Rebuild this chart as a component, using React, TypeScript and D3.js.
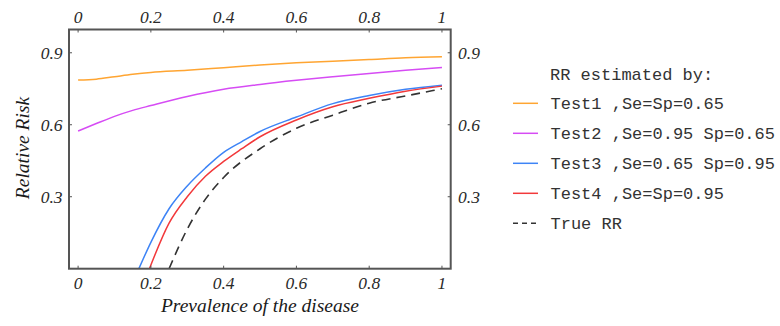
import React from "react";
import * as d3 from "d3";

const W = 780;
const H = 326;

const xTicks = [0, 0.2, 0.4, 0.6, 0.8, 1];
const yTicks = [0.3, 0.6, 0.9];

const pOrange = [0, 0.05, 0.1, 0.15, 0.2, 0.3, 0.4, 0.5, 0.6, 0.7, 0.8, 0.9, 1.0];
const test1 = [0.786, 0.79, 0.8, 0.81, 0.818, 0.827, 0.838, 0.849, 0.858, 0.865, 0.872, 0.879, 0.883];

const pPurple = [0, 0.05, 0.1, 0.15, 0.2, 0.3, 0.4, 0.5, 0.6, 0.7, 0.8, 0.9, 1.0];
const test2 = [0.574, 0.605, 0.635, 0.66, 0.68, 0.718, 0.748, 0.768, 0.785, 0.8, 0.814, 0.827, 0.839];

const pBlue = [0.167, 0.2, 0.25, 0.3, 0.35, 0.4, 0.45, 0.5, 0.6, 0.7, 0.8, 0.9, 1.0];
const test3 = [0, 0.11, 0.25, 0.345, 0.42, 0.485, 0.53, 0.572, 0.632, 0.688, 0.722, 0.748, 0.765];

const pRed = [0.196, 0.25, 0.3, 0.35, 0.4, 0.45, 0.5, 0.6, 0.7, 0.8, 0.9, 1.0];
const test4 = [0, 0.19, 0.3, 0.385, 0.447, 0.5, 0.55, 0.62, 0.675, 0.71, 0.74, 0.761];

const pTrue = [0.25, 0.3, 0.35, 0.4, 0.5, 0.6, 0.7, 0.8, 0.9, 1.0];
const trueRR = [0, 0.165, 0.29, 0.38, 0.5, 0.585, 0.64, 0.69, 0.72, 0.75];

const legendTitle = "RR estimated by:";
const legendLabels = [
  "Test1 ,Se=Sp=0.65",
  "Test2 ,Se=0.95 Sp=0.65",
  "Test3 ,Se=0.65 Sp=0.95",
  "Test4 ,Se=Sp=0.95",
  "True RR",
];
const colors = ["#FFA532", "#D64CF4", "#3E84F6", "#F2393B", "#333333"];

export default function App() {
  const left = 69, right = 450.7, top = 29.5, bottom = 268.7;
  const x = d3.scaleLinear().domain([-0.025, 1.024]).range([left, right]);
  const y = d3.scaleLinear().domain([0, 0.997]).range([bottom, top]);

  const series = [
    { p: pOrange, v: test1 },
    { p: pPurple, v: test2 },
    { p: pBlue, v: test3 },
    { p: pRed, v: test4 },
    { p: pTrue, v: trueRR },
  ];
  const line = d3
    .line<[number, number]>()
    .x((d) => x(d[0]))
    .y((d) => y(d[1]))
    .curve(d3.curveMonotoneX);

  const serifStyle: React.CSSProperties = {
    fontFamily: '"Liberation Serif", "Times New Roman", serif',
    fontStyle: "italic",
  };
  const monoStyle: React.CSSProperties = {
    fontFamily: '"Liberation Mono", "Courier New", monospace',
  };
  const axisColor = "#555555";
  const tickLen = 3;

  return (
    <svg width={W} height={H} style={{ position: "absolute", left: 0, top: 0, background: "#fff" }}>
      <defs>
        <clipPath id="plotclip">
          <rect x={left} y={top} width={right - left} height={bottom - top} />
        </clipPath>
      </defs>
      <g clipPath="url(#plotclip)">
        {series.map((s, i) => (
          <path
            key={i}
            d={line(s.p.map((p, j) => [p, s.v[j]] as [number, number])) || ""}
            fill="none"
            stroke={colors[i]}
            strokeWidth={i === 4 ? 1.6 : 1.5}
            strokeDasharray={i === 4 ? "9,6" : undefined}
          />
        ))}
      </g>
      <rect x={left} y={top} width={right - left} height={bottom - top} fill="none" stroke={axisColor} strokeWidth={2} />
      {xTicks.map((t) => (
        <g key={"x" + t}>
          <line x1={x(t)} x2={x(t)} y1={bottom} y2={bottom - tickLen} stroke={axisColor} strokeWidth={1} />
          <line x1={x(t)} x2={x(t)} y1={top} y2={top + tickLen} stroke={axisColor} strokeWidth={1} />
          <text x={x(t)} y={289} textAnchor="middle" style={{ ...serifStyle, fontSize: 17.5 }} fill="#2a2a2a">
            {String(t)}
          </text>
          <text x={x(t)} y={23} textAnchor="middle" style={{ ...serifStyle, fontSize: 17.5 }} fill="#2a2a2a">
            {String(t)}
          </text>
        </g>
      ))}
      {yTicks.map((t) => (
        <g key={"y" + t}>
          <line x1={left} x2={left + tickLen} y1={y(t)} y2={y(t)} stroke={axisColor} strokeWidth={1} />
          <line x1={right} x2={right - tickLen} y1={y(t)} y2={y(t)} stroke={axisColor} strokeWidth={1} />
          <text x={62.5} y={y(t) + 6} textAnchor="end" style={{ ...serifStyle, fontSize: 17.5 }} fill="#2a2a2a">
            {t.toFixed(1)}
          </text>
          <text x={458} y={y(t) + 6} textAnchor="start" style={{ ...serifStyle, fontSize: 17.5 }} fill="#2a2a2a">
            {t.toFixed(1)}
          </text>
        </g>
      ))}
      <text x={259.9} y={312} textAnchor="middle" style={{ ...serifStyle, fontSize: 19.5 }} fill="#1a1a1a">
        Prevalence of the disease
      </text>
      <text
        transform={`translate(29,148) rotate(-90)`}
        textAnchor="middle"
        style={{ ...serifStyle, fontSize: 19.5 }}
        fill="#1a1a1a"
      >
        Relative Risk
      </text>
      <text x={550} y={79.5} style={{ ...monoStyle, fontSize: 17 }} fill="#333">
        {legendTitle}
      </text>
      {legendLabels.map((lab, i) => {
        const ly = 103.3 + i * 30;
        return (
          <g key={lab}>
            <line
              x1={513}
              x2={538}
              y1={ly}
              y2={ly}
              stroke={colors[i]}
              strokeWidth={1.5}
              strokeDasharray={i === 4 ? "5,4" : undefined}
            />
            <text x={550.5} y={ly + 6} style={{ ...monoStyle, fontSize: 17 }} fill="#333">
              {lab}
            </text>
          </g>
        );
      })}
    </svg>
  );
}
